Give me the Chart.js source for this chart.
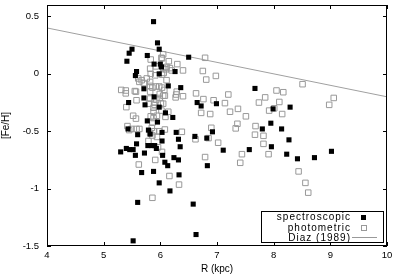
<!DOCTYPE html>
<html>
<head>
<meta charset="utf-8">
<script src="https://cdn.jsdelivr.net/npm/chart.js@4/dist/chart.umd.min.js"></script>
<style>
html,body{margin:0;padding:0;background:#fff;}
#wrap{width:394px;height:278px;position:relative;}
</style>
</head>
<body>
<div id="wrap"><canvas id="c" width="394" height="278"></canvas></div>
<script>
// ---- data ----
const specR = [5.88,5.95,5.98,5.50,5.45,5.77,6.50,5.41,5.89,6.00,6.02,6.26,5.58,5.98,5.56,6.14,7.67,6.36,5.71,5.89,5.71,5.44,6.65,6.99,5.73,6.72,5.98,8.29,7.99,6.09,6.22,5.77,5.95,7.95,5.43,7.80,8.14,5.79,6.92,6.28,6.03,5.82,5.60,6.61,6.82,6.32,8.27,6.03,5.58,5.78,5.85,5.90,6.35,7.96,5.40,5.93,7.57,5.46,5.52,7.11,9.02,5.30,5.72,8.23,5.56,6.04,6.24,8.72,8.42,6.32,6.08,6.13,6.83,5.88,5.67,6.33,5.98,6.17,5.60,6.58,6.63,5.52];
const specFeH = [0.455,0.27,0.215,0.215,0.18,0.16,0.145,0.11,0.085,0.085,0.06,0.02,0.02,0.0,-0.015,-0.105,-0.127,-0.12,-0.13,-0.20,-0.21,-0.25,-0.25,-0.26,-0.27,-0.28,-0.29,-0.29,-0.305,-0.34,-0.38,-0.41,-0.42,-0.43,-0.48,-0.48,-0.48,-0.49,-0.505,-0.51,-0.51,-0.525,-0.53,-0.545,-0.56,-0.57,-0.575,-0.585,-0.61,-0.625,-0.625,-0.625,-0.635,-0.635,-0.65,-0.65,-0.66,-0.66,-0.66,-0.665,-0.675,-0.68,-0.69,-0.70,-0.71,-0.71,-0.73,-0.73,-0.74,-0.75,-0.77,-0.80,-0.80,-0.85,-0.86,-0.88,-0.95,-1.02,-1.12,-1.135,-1.40,-1.455];

const photR = [6.05,6.02,5.83,6.03,6.15,6.30,6.79,5.92,6.11,6.05,5.82,6.17,6.10,6.40,6.20,6.75,5.83,6.06,6.03,5.91,6.98,5.61,5.76,6.81,5.67,6.11,5.63,5.82,5.71,8.51,5.82,5.92,5.98,5.86,6.03,5.31,5.39,6.07,8.05,5.55,5.57,5.82,6.29,8.17,5.39,6.63,5.99,6.28,7.20,6.08,6.05,6.40,6.27,7.85,9.06,5.82,5.99,6.76,5.93,5.58,6.94,7.74,5.89,8.10,7.14,6.01,5.80,6.05,8.98,5.90,5.40,5.88,8.01,7.37,6.02,7.92,7.23,6.14,5.88,6.72,6.88,8.15,5.52,5.94,5.83,7.51,6.09,5.57,5.88,5.86,7.36,5.42,7.68,5.85,6.90,7.33,5.49,5.58,5.63,6.08,5.45,5.89,5.98,6.38,5.82,7.67,5.86,7.82,5.94,6.85,6.62,5.79,7.02,7.82,5.96,6.03,7.44,7.91,6.79,5.91,7.41,5.62,8.44,6.16,8.56,6.33,8.61,5.86];
const photFeH = [0.17,0.14,0.125,0.135,0.11,0.085,0.14,0.065,0.06,0.05,0.045,0.05,0.04,0.03,0.03,0.025,0.0,0.008,-0.007,-0.013,-0.018,-0.04,-0.04,-0.05,-0.055,-0.055,-0.07,-0.07,-0.08,-0.09,-0.105,-0.11,-0.11,-0.12,-0.12,-0.14,-0.145,-0.14,-0.145,-0.15,-0.155,-0.155,-0.155,-0.16,-0.17,-0.17,-0.175,-0.18,-0.18,-0.19,-0.19,-0.195,-0.205,-0.205,-0.21,-0.215,-0.21,-0.22,-0.225,-0.23,-0.23,-0.25,-0.25,-0.245,-0.255,-0.255,-0.26,-0.26,-0.27,-0.27,-0.29,-0.295,-0.30,-0.305,-0.32,-0.32,-0.33,-0.33,-0.33,-0.34,-0.35,-0.35,-0.365,-0.365,-0.37,-0.37,-0.375,-0.39,-0.385,-0.425,-0.435,-0.455,-0.455,-0.47,-0.47,-0.475,-0.48,-0.48,-0.48,-0.485,-0.49,-0.50,-0.50,-0.505,-0.515,-0.53,-0.537,-0.54,-0.55,-0.56,-0.57,-0.585,-0.60,-0.61,-0.64,-0.68,-0.70,-0.70,-0.725,-0.75,-0.775,-0.79,-0.85,-0.89,-0.95,-0.965,-1.035,-1.08];

const diazR = [4, 10];
const diazFeH = [0.4, -0.2];

const xTicks = [4, 5, 6, 7, 8, 9, 10];
const yTicks = [-1.5, -1, -0.5, 0, 0.5];
const legendLabels = ['spectroscopic', 'photometric', 'Diaz (1989)'];
const xTitle = 'R (kpc)';
const yTitle = '[Fe/H]';

// ---- build ----
const toPts = (xs, ys) => xs.map((x, i) => ({x: x, y: ys[i]}));

const framePlugin = {
  id: 'frame',
  afterDatasetsDraw(chart) {
    const {ctx, chartArea: a, scales} = chart;
    ctx.save();
    ctx.strokeStyle = '#000';
    ctx.lineWidth = 1;
    // ticks (inward, mirrored)
    ctx.beginPath();
    xTicks.forEach(v => {
      const px = Math.round(scales.x.getPixelForValue(v)) + 0.5;
      ctx.moveTo(px, a.bottom); ctx.lineTo(px, a.bottom - 4);
      ctx.moveTo(px, a.top); ctx.lineTo(px, a.top + 4);
    });
    yTicks.forEach(v => {
      const py = Math.round(scales.y.getPixelForValue(v)) + 0.5;
      ctx.moveTo(a.left, py); ctx.lineTo(a.left + 4, py);
      ctx.moveTo(a.right, py); ctx.lineTo(a.right - 4, py);
    });
    ctx.stroke();
    ctx.strokeRect(a.left + 0.5, a.top + 0.5, a.right - a.left - 1, a.bottom - a.top - 1);

    // legend box
    const lx = 261, ly = 211, lw = 122, lh = 31;
    ctx.fillStyle = '#fff';
    ctx.fillRect(lx, ly, lw, lh);
    ctx.strokeRect(lx + 0.5, ly + 0.5, lw, lh);
    ctx.font = '10px "Liberation Sans", Arial, sans-serif';
    ctx.textAlign = 'right';
    ctx.textBaseline = 'middle';
    ctx.fillStyle = '#000';
    try { ctx.letterSpacing = '1px'; } catch (e) {}
    const rows = [217.5, 228, 238];
    legendLabels.forEach((t, i) => ctx.fillText(t, 351, rows[i]));
    try { ctx.letterSpacing = '0px'; } catch (e) {}
    // samples
    ctx.fillStyle = '#000';
    ctx.fillRect(361, rows[0] - 2.5, 5, 5);
    ctx.strokeStyle = '#999';
    ctx.strokeRect(361.5, rows[1] - 2.5, 5, 5);
    ctx.beginPath();
    ctx.moveTo(352, rows[2] - 0.5); ctx.lineTo(377, rows[2] - 0.5);
    ctx.stroke();
    ctx.restore();
  }
};

new Chart(document.getElementById('c'), {
  type: 'scatter',
  data: {
    datasets: [
      {
        label: legendLabels[0],
        data: toPts(specR, specFeH),
        pointStyle: 'rect',
        pointRadius: 3.6,
        backgroundColor: '#000',
        borderColor: '#000',
        borderWidth: 0,
        order: 1
      },
      {
        label: legendLabels[1],
        data: toPts(photR, photFeH),
        pointStyle: 'rect',
        pointRadius: 3.9,
        backgroundColor: 'rgba(255,255,255,0)',
        borderColor: '#999',
        borderWidth: 1,
        order: 2
      },
      {
        type: 'line',
        label: legendLabels[2],
        data: toPts(diazR, diazFeH),
        borderColor: '#a0a0a0',
        borderWidth: 1,
        pointRadius: 0,
        fill: false,
        tension: 0,
        order: 3
      }
    ]
  },
  options: {
    responsive: false,
    animation: false,
    events: [],
    layout: {padding: {top: 0, right: 7, left: 0, bottom: 0}},
    plugins: {legend: {display: false}, tooltip: {enabled: false}},
    scales: {
      x: {
        type: 'linear',
        min: 4, max: 10,
        afterBuildTicks: s => { s.ticks = xTicks.map(v => ({value: v})); },
        afterFit: s => { s.height = 32; s.paddingLeft = 0; s.paddingRight = 0; },
        grid: {display: false, drawTicks: false},
        border: {display: false},
        ticks: {
          padding: 4,
          color: '#000',
          maxRotation: 0,
          font: {family: '"Liberation Sans", Arial, sans-serif', size: 9.5},
          callback: v => String(v)
        },
        title: {
          display: true, text: xTitle, color: '#000',
          font: {family: '"Liberation Sans", Arial, sans-serif', size: 10},
          padding: {top: 0, bottom: 3}
        }
      },
      y: {
        type: 'linear',
        min: -1.5, max: 0.6,
        afterBuildTicks: s => { s.ticks = yTicks.map(v => ({value: v})); },
        afterFit: s => { s.width = 47; s.paddingTop = 0; s.paddingBottom = 0; },
        grid: {display: false, drawTicks: false},
        border: {display: false},
        ticks: {
          padding: 8,
          color: '#000',
          font: {family: '"Liberation Sans", Arial, sans-serif', size: 9.5},
          callback: v => String(v)
        },
        title: {
          display: true, text: yTitle, color: '#000',
          font: {family: '"Liberation Sans", Arial, sans-serif', size: 10},
          padding: {top: 0, bottom: 0}
        }
      }
    }
  },
  plugins: [framePlugin]
});
</script>
</body>
</html>
